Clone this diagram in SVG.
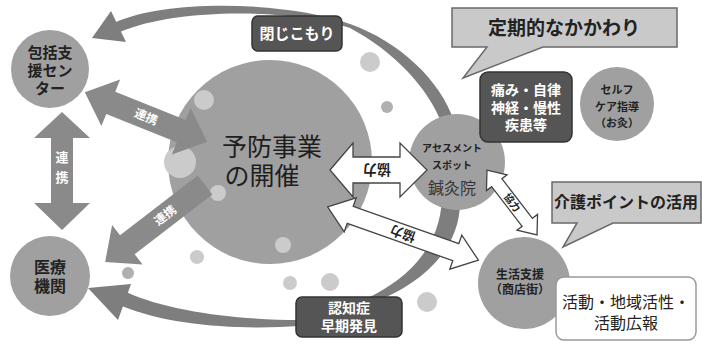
<svg xmlns="http://www.w3.org/2000/svg" width="702" height="344" viewBox="0 0 702 344">
<style>
text{font-family:"Liberation Sans","Noto Sans CJK JP","Noto Sans CJK SC",sans-serif;text-anchor:middle;dominant-baseline:central}
.node{fill:#a0a0a0}
.bokeh{fill:#cbcbcb}
.bokeh2{fill:#b0b0b0}
.garrow{fill:#8a8a8a}
.warrow{fill:#ffffff;stroke:#444;stroke-width:1.3}
.curve{fill:#7e7e7e}
.dark{fill:#555;stroke:#333;stroke-width:1.5}
.wt{fill:#fff;font-weight:bold}
.dt{fill:#222;font-weight:bold}
.callout{fill:#c9c9c9;stroke:#6a6a6a;stroke-width:1.5}
</style>
<rect width="702" height="344" fill="#ffffff"/>

<g id="bokeh">
<circle class="bokeh" cx="370" cy="62" r="10"/>
<circle class="bokeh2" cx="387" cy="107" r="6"/>
<circle class="bokeh" cx="197" cy="257" r="7"/>
<circle class="bokeh2" cx="128" cy="273" r="6"/>
<circle class="bokeh" cx="290" cy="283" r="7"/>
<circle class="bokeh" cx="330" cy="282" r="9"/>
<circle class="bokeh" cx="427" cy="302" r="10"/>
</g>

<g id="curves">
<path class="curve" d="M116,22 C170,-2 290,2 350,24 C400,42 440,80 454,121 L442,124 C428,88 395,52 350,28 C290,8 175,8 120,32 Z"/>
<polygon class="curve" points="92,38 111,11 126,42"/>
<path class="curve" d="M460,198 C462,250 420,285 372,303 L366,299 C405,280 440,250 442,198 Z"/>
<path class="curve" d="M300,320 C240,320 170,312 126,292 L122,306 C170,326 240,330 300,326 Z"/>
<polygon class="curve" points="88,288 131,284 118,320"/>
</g>

<g id="n-main">
<circle class="node" cx="270" cy="162" r="102"/>
<circle class="bokeh" cx="204" cy="100" r="10"/>
<circle class="bokeh" cx="180" cy="162" r="16"/>
<circle class="bokeh" cx="218" cy="193" r="8"/>
<circle class="bokeh" cx="283" cy="245" r="8"/>
<text style="font-size:25px;fill:#1e1e1e"><tspan x="272" y="147">予防事業</tspan><tspan x="262" y="176">の開催</tspan></text>
</g>

<g id="n-houkatsu">
<circle class="node" cx="50" cy="69" r="39"/>
<text class="dt" style="font-size:15px"><tspan x="50" y="52">包括支</tspan><tspan x="50" y="70">援セン</tspan><tspan x="50" y="88">ター</tspan></text>
</g>

<g id="n-iryou">
<circle class="node" cx="50" cy="276" r="40"/>
<text class="dt" style="font-size:16px"><tspan x="50" y="267">医療</tspan><tspan x="50" y="286">機関</tspan></text>
</g>

<g id="n-assess">
<circle class="node" cx="457" cy="162" r="48"/>
<text class="dt" style="font-size:10px"><tspan x="452" y="148">アセスメント</tspan><tspan x="452" y="165">スポット</tspan></text>
<text x="452" y="188" style="font-size:16px;fill:#333">鍼灸院</text>
</g>

<g id="n-self">
<circle class="node" cx="617" cy="104" r="37"/>
<text class="dt" style="font-size:11px"><tspan x="617" y="90">セルフ</tspan><tspan x="617" y="107">ケア指導</tspan><tspan x="617" y="123">（お灸）</tspan></text>
</g>

<g id="n-seikatsu">
<circle class="node" cx="524" cy="283" r="46"/>
<text class="dt" style="font-size:12px"><tspan x="520" y="275">生活支援</tspan><tspan x="520" y="290">（商店街）</tspan></text>
</g>

<g id="connectors">
<polygon class="garrow" points="62,112 90,138 73,138 73,203 90,203 62,230 34,203 51,203 51,138 34,138"/>
<text class="wt" style="font-size:13px"><tspan x="62" y="157">連</tspan><tspan x="62" y="177">携</tspan></text>

<g transform="translate(146,117) rotate(22)">
<polygon class="garrow" points="-66,0 -38,-25 -38,-12 38,-12 38,-25 66,0 38,25 38,12 -38,12 -38,25"/>
<text class="wt" x="0" y="0" style="font-size:12px">連携</text>
</g>

<g transform="translate(205,185) rotate(142.4)">
<polygon class="garrow" points="0,-12 98,-12 98,-25 126,0 98,25 98,12 0,12"/>
<text class="wt" x="50" y="0" transform="rotate(180 50 0)" style="font-size:12px">連携</text>
</g>

<polygon class="warrow" points="330,170 353,143 353,157 400,157 400,143 427,170 400,197 400,183 353,183 353,197"/>
<text class="dt" x="377" y="170" transform="rotate(180 377 170)" style="font-size:14px">協力</text>

<g transform="translate(403,233.5) rotate(19.5)">
<polygon class="warrow" points="-80,0 -56,-18 -56,-9 56,-9 56,-18 80,0 56,18 56,9 -56,9 -56,18"/>
<text class="dt" x="0" y="0" transform="rotate(180)" style="font-size:13px">協力</text>
</g>

<g transform="translate(512,202.5) rotate(52.4)">
<polygon class="warrow" points="-41,0 -25,-13 -25,-6.5 25,-6.5 25,-13 41,0 25,13 25,6.5 -25,6.5 -25,13"/>
<text class="dt" x="0" y="0" style="font-size:10px">協力</text>
</g>
</g>

<g id="n-tojikomori">
<rect class="dark" x="252" y="16" width="90" height="35" rx="6"/>
<text class="wt" x="297" y="33" style="font-size:15px">閉じこもり</text>
</g>

<g id="n-ninchi">
<rect class="dark" x="296" y="297" width="106" height="40" rx="6"/>
<text class="wt" style="font-size:14px"><tspan x="349" y="308">認知症</tspan><tspan x="349" y="326">早期発見</tspan></text>
</g>

<g id="n-itami">
<rect class="dark" x="480" y="72" width="92" height="70" rx="8"/>
<text class="wt" style="font-size:14px"><tspan x="526" y="90">痛み・自律</tspan><tspan x="526" y="108">神経・慢性</tspan><tspan x="526" y="125">疾患等</tspan></text>
</g>

<g id="n-teiki">
<path class="callout" d="M452,8 H677 V47 H543 L463,78 L487,47 H452 Z"/>
<text class="dt" x="564" y="28" style="font-size:19px">定期的なかかわり</text>
</g>

<g id="n-kaigo">
<path class="callout" d="M552,182 H701 V223 H613 L563,247 L577,223 H552 Z"/>
<text class="dt" x="626" y="202" style="font-size:16px">介護ポイントの活用</text>
</g>

<g id="n-katsudou">
<rect x="556" y="277" width="140" height="63" rx="8" fill="#fff" stroke="#999" stroke-width="1.5"/>
<text style="font-size:16px;fill:#222"><tspan x="626" y="302">活動・地域活性・</tspan><tspan x="626" y="323">活動広報</tspan></text>
</g>
</svg>
